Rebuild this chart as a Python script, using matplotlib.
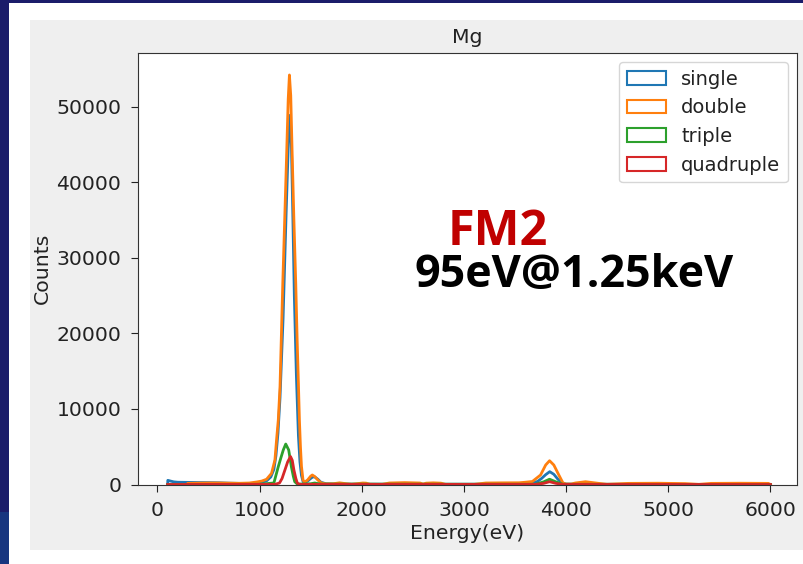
import matplotlib
matplotlib.use("Agg")
import matplotlib.pyplot as plt
from matplotlib.patches import Rectangle, Patch

# spectrum values (energy in eV, counts)
single_e = [100, 102, 130, 160, 200, 300, 400, 500, 600, 700, 800, 900, 1000, 1070, 1110, 1140, 1160, 1180,
            1200, 1230, 1260, 1280, 1298, 1310, 1325, 1340, 1360, 1380, 1395, 1410, 1425, 1440, 1470, 1500,
            1520, 1540, 1570, 1600, 1650, 1800, 2500, 3500, 3650, 3720, 3760, 3800, 3840, 3880, 3920, 3960,
            4000, 4100, 4200, 4300, 5000, 6000]
single_c = [0, 550, 450, 350, 300, 280, 260, 250, 230, 180, 150, 130, 180, 500, 1000, 2000, 3800, 6800,
            11500, 22000, 36000, 44500, 48900, 46000, 36000, 25000, 14500, 6500, 3000, 1200, 400, 250, 450, 800,
            1000, 1000, 700, 300, 100, 50, 30, 40, 150, 400, 800, 1300, 1700, 1350, 700, 200,
            60, 40, 40, 30, 20, 10]

double_e = [300, 400, 500, 600, 700, 800, 900, 970, 1020, 1068, 1117, 1150, 1166, 1183, 1200, 1227, 1250,
            1266, 1280, 1292, 1305, 1318, 1336, 1354, 1368, 1380, 1390, 1400, 1410, 1425, 1440, 1470, 1500,
            1516, 1540, 1570, 1604, 1650, 1720, 1782, 1840, 1900, 1980, 2010, 2043, 2080, 2200, 2270, 2420,
            2570, 2600, 2630, 2700, 2775, 2820, 3100, 3215, 3380, 3540, 3600, 3670, 3750, 3800, 3838, 3880,
            3929, 3968, 3995, 4050, 4090, 4190, 4320, 4400, 4610, 4900, 5165, 5300, 5420, 5700, 5980, 6000]
double_c = [150, 180, 200, 200, 180, 160, 200, 330, 450, 690, 1480, 3240, 5900, 8540, 13000, 26650, 37000,
            44300, 51000, 54240, 51500, 44300, 35000, 26650, 19000, 13400, 8500, 5000, 2400, 600, 300, 600, 1100,
            1260, 1050, 600, 200, 80, 100, 220, 120, 30, 150, 200, 180, 30, 20, 200, 250,
            200, 60, 180, 220, 180, 20, 20, 200, 220, 230, 300, 400, 1260, 2580, 3150, 2580,
            1260, 240, 60, 60, 200, 370, 150, 30, 150, 170, 120, 20, 150, 170, 150, 0]

triple_e = [100, 1000, 1140, 1183, 1210, 1232, 1256, 1285, 1311, 1330, 1344, 1370, 1500, 1540, 1600,
            3700, 3780, 3838, 3900, 3970, 6000]
triple_c = [0, 30, 200, 2360, 3600, 4570, 5360, 4570, 2360, 1100, 370, 50, 100, 200, 50,
            30, 350, 700, 350, 30, 0]

quad_e = [100, 1150, 1195, 1220, 1248, 1275, 1303, 1320, 1336, 1355, 1369, 1390, 3700, 3780, 3838, 3900,
          3970, 6000]
quad_c = [0, 20, 200, 800, 1920, 3000, 3700, 3200, 1920, 800, 200, 20, 10, 150, 370, 150, 10, 0]

labels = ["single", "double", "triple", "quadruple"]
colors = ["#1f77b4", "#ff7f0e", "#2ca02c", "#d62728"]

font_size = 14.7
fig = plt.figure(figsize=(8.04, 5.64), dpi=100, facecolor="white")

# screenshot frame: navy border and the grey figure panel
frame = [((30, 14), 774, 530, "#efefef"),
         ((0, 561), 804, 3, "#1b1c6a"),
         ((0, 52), 9, 512, "#1b1c6a"),
         ((0, 0), 9, 52, "#17357f")]
for (x0, y0), w, h, fc in frame:
    fig.patches.append(Rectangle((x0 / 804, y0 / 564), w / 804, h / 564, transform=fig.transFigure,
                                 facecolor=fc, edgecolor="none", zorder=-5))

ax = fig.add_axes([138 / 804, 1 - 484.5 / 564, 659 / 804, 431.5 / 564])
ax.set_zorder(1)
ax.set_facecolor("white")

series = [(single_e, single_c), (double_e, double_c), (triple_e, triple_c), (quad_e, quad_c)]
for (e, c), col in zip(series, colors):
    ax.plot(e, c, color=col, linewidth=2.0)

ax.set_xlim(-190, 6260)
ax.set_ylim(0, 57150)
ax.set_xticks([0, 1000, 2000, 3000, 4000, 5000, 6000])
ax.set_yticks([0, 10000, 20000, 30000, 40000, 50000])
ax.tick_params(labelsize=font_size, length=5, colors="#222222")
ax.tick_params(axis="x", pad=7)
ax.tick_params(axis="y", pad=7)
for s in ax.spines.values():
    s.set_color("#333333")
ax.set_title("Mg", fontsize=font_size, color="#222222", pad=7)
ax.set_xlabel("Energy(eV)", fontsize=font_size, color="#222222", labelpad=3)
ax.set_ylabel("Counts", fontsize=font_size, color="#222222", labelpad=3)

handles = [Patch(facecolor="none", edgecolor=col, linewidth=1.5) for col in colors]
leg = ax.legend(handles, labels, loc="upper right", fontsize=14, borderaxespad=0.45)
for t in leg.get_texts():
    t.set_color("#222222")

ax.text(448 / 804, 1 - 245 / 564, "FM2", color="#c00000", fontsize=35, transform=fig.transFigure,
        fontweight="bold", family="Open Sans", zorder=5)
ax.text(415 / 804, 1 - 287 / 564, "95eV@1.25keV", color="black", fontsize=32.3, transform=fig.transFigure,
        fontweight="bold", family="Open Sans", zorder=5)

fig.savefig("out.png", dpi=100)
